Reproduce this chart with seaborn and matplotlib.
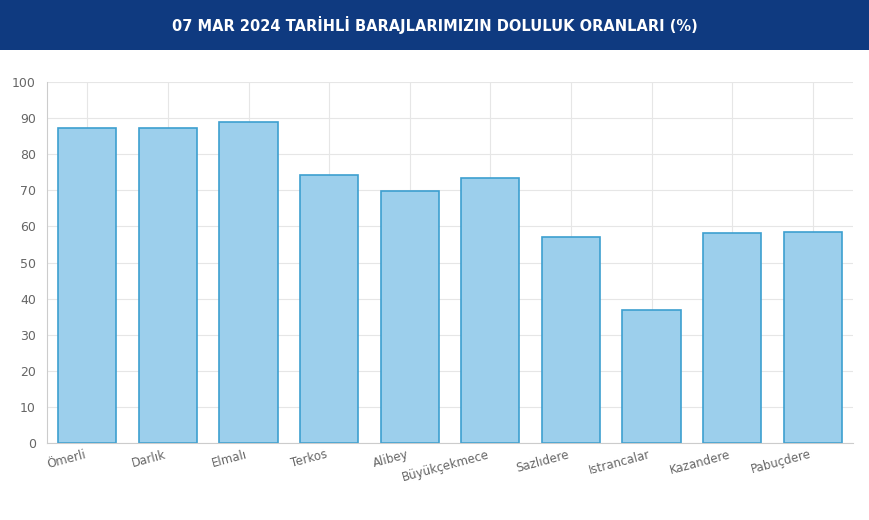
import matplotlib
matplotlib.use("Agg")
import matplotlib.pyplot as plt
import seaborn as sns
import pandas as pd

# Baraj doluluk oranları (%)
barajlar = ["Ömerli", "Darlık", "Elmalı", "Terkos", "Alibey", "Büyükçekmece",
            "Sazlıdere", "Istrancalar", "Kazandere", "Pabuçdere"]
oranlar = [87.3, 87.3, 88.9, 74.3, 69.7, 73.4, 57.1, 36.9, 58.3, 58.5]

df = pd.DataFrame({"Baraj": barajlar, "Oran": oranlar})

sns.set_style("white")
plt.rcParams["font.family"] = ["DejaVu Sans"]

fig = plt.figure(figsize=(8.69, 5.20), dpi=100)
# başlık şeridi
band = fig.add_axes([0, 1 - 50 / 520, 1, 50 / 520])
band.set_facecolor("#0f3a80")
band.set_xticks([]); band.set_yticks([])
for s in band.spines.values():
    s.set_visible(False)
band.text(0.5, 0.5, "07 MAR 2024 TARİHLİ BARAJLARIMIZIN DOLULUK ORANLARI (%)",
          color="white", ha="center", va="center", fontsize=10.5, fontweight="bold")

ax = fig.add_axes([47 / 869, 1 - 443 / 520, 806 / 869, 361 / 520])
sns.barplot(data=df, x="Baraj", y="Oran", ax=ax, color="#9ccfec",
            edgecolor="#3d9fd0", linewidth=1.2, width=0.72, saturation=1)
ax.set_ylim(0, 100)
ax.set_yticks(range(0, 101, 10))
ax.set_xlabel(""); ax.set_ylabel("")
ax.grid(True, color="#e6e6e6", linewidth=0.8)
ax.set_axisbelow(True)
for s in ["top", "right"]:
    ax.spines[s].set_visible(False)
for s in ["left", "bottom"]:
    ax.spines[s].set_color("#cccccc")
ax.tick_params(axis="y", colors="#666666", labelsize=9, length=0, pad=8)
ax.tick_params(axis="x", colors="#666666", labelsize=8.5, length=0)
for lbl in ax.get_xticklabels():
    lbl.set_rotation(15)
    lbl.set_ha("right")

fig.savefig("out.png", dpi=100)
